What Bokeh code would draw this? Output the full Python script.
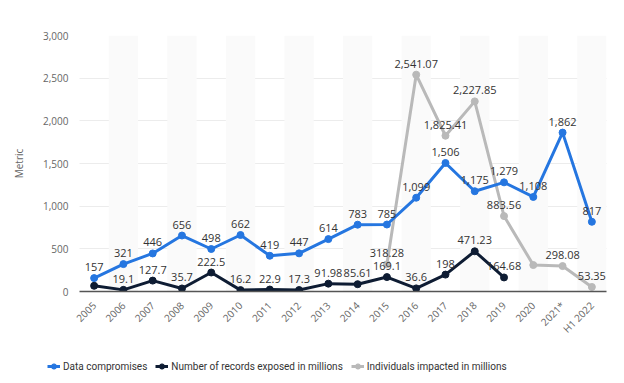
import math
from bokeh.plotting import figure
from bokeh.layouts import column
from bokeh.models import (FactorRange, Range1d, NumeralTickFormatter, Legend, LegendItem,
                          ColumnDataSource, SingleIntervalTicker)
from bokeh.core.properties import value
from bokeh.embed import file_html
from bokeh.resources import INLINE

years = ["2005", "2006", "2007", "2008", "2009", "2010", "2011", "2012", "2013",
         "2014", "2015", "2016", "2017", "2018", "2019", "2020", "2021*", "H1 2022"]
compromises = [157, 321, 446, 656, 498, 662, 419, 447, 614, 783, 785, 1099, 1506,
               1175, 1279, 1108, 1862, 817]
records_years = years[:15]
records = [66.9, 19.1, 127.7, 35.7, 222.5, 16.2, 22.9, 17.3, 91.98, 85.61, 169.1,
           36.6, 198, 471.23, 164.68]
individuals_years = years[10:]
individuals = [318.28, 2541.07, 1825.41, 2227.85, 883.56, 310.12, 298.08, 53.35]
hidden_labels = {("records", "2005"), ("individuals", "2020")}
series_names = ["Data compromises", "Number of records exposed in millions",
                "Individuals impacted in millions"]

BLUE = "#2576e0"
NAVY = "#0e1c33"
GRAY = "#b9b9b9"
FONT = "Open Sans"

p = figure(x_range=FactorRange(*years), y_range=Range1d(0, 3000),
           width=608, height=343, output_backend="svg", toolbar_location=None,
           min_border_left=79, min_border_right=2, min_border_top=35, min_border_bottom=52)
p.outline_line_color = None
p.background_fill_color = "white"

# alternating bands
band_cats = years[1::2]
p.vbar(x=band_cats, top=[3000] * len(band_cats), width=1.0, color="#fafafa", line_color=None)

p.xgrid.grid_line_color = None
p.ygrid.grid_line_color = "#d9d9d9"
p.ygrid.grid_line_dash = "1 1"
p.yaxis.ticker = SingleIntervalTicker(interval=500)
p.yaxis.formatter = NumeralTickFormatter(format="0,0")
p.yaxis.axis_line_color = None
p.yaxis.major_tick_line_color = None
p.yaxis.minor_tick_line_color = None
p.yaxis.major_label_text_color = "#666666"
p.yaxis.major_label_text_font = FONT
p.yaxis.major_label_text_font_size = "10px"
p.yaxis.axis_label = "Metric"
p.yaxis.axis_label_text_font = FONT
p.yaxis.axis_label_text_font_size = "10px"
p.yaxis.axis_label_text_font_style = "normal"
p.yaxis.axis_label_text_color = "#666666"
p.yaxis.axis_label_standoff = 14

p.xaxis.axis_line_color = "#555555"
p.xaxis.axis_line_width = 1.5
p.xaxis.major_tick_line_color = None
p.xaxis.major_label_orientation = math.pi / 4
p.xaxis.major_label_text_color = "#666666"
p.xaxis.major_label_text_font = FONT
p.xaxis.major_label_text_font_size = "10px"
p.xaxis.major_label_standoff = 6

# legend strip (own figure, glyphs kept out of its visible range)
lg = figure(x_range=p.x_range, y_range=Range1d(-2, -1), width=608, height=32,
            output_backend="svg", toolbar_location=None, min_border=0,
            x_axis_location=None, y_axis_location=None)
lg.outline_line_color = None
lg.xgrid.grid_line_color = None
lg.ygrid.grid_line_color = None


def series(xs, ys, color, key, name):
    src = ColumnDataSource(dict(x=xs, y=ys))
    p.line("x", "y", source=src, line_color=color, line_width=3)
    p.scatter("x", "y", source=src, size=7, fill_color=color, line_color=color)
    lx, ly, lt = [], [], []
    for x, y in zip(xs, ys):
        if (key, x) in hidden_labels:
            continue
        lx.append(x)
        ly.append(y)
        lt.append(f"{y:,}")
    p.text(x=lx, y=ly, text=lt, text_align="center", text_baseline="bottom",
           y_offset=-7, text_font=value(FONT), text_font_size="11px",
           text_color="#333333")
    r1 = lg.line("x", "y", source=src, line_color=color, line_width=3)
    r2 = lg.scatter("x", "y", source=src, size=7, fill_color=color, line_color=color)
    return LegendItem(label=name, renderers=[r1, r2])


it_ind = series(individuals_years, individuals, GRAY, "individuals", series_names[2])
it_blue = series(years, compromises, BLUE, "compromises", series_names[0])
it_navy = series(records_years, records, NAVY, "records", series_names[1])

legend = Legend(items=[it_blue, it_navy, it_ind], orientation="horizontal", location=(47, 2),
                label_text_font="Roboto", label_text_font_size="10px",
                label_text_color="#333333", border_line_color=None,
                background_fill_alpha=0, glyph_width=13, glyph_height=14,
                label_standoff=3, spacing=8, padding=0, margin=0)
lg.add_layout(legend, "center")

layout = column(p, column(lg), spacing=0)
open("out.html", "w").write(file_html(layout, INLINE))
